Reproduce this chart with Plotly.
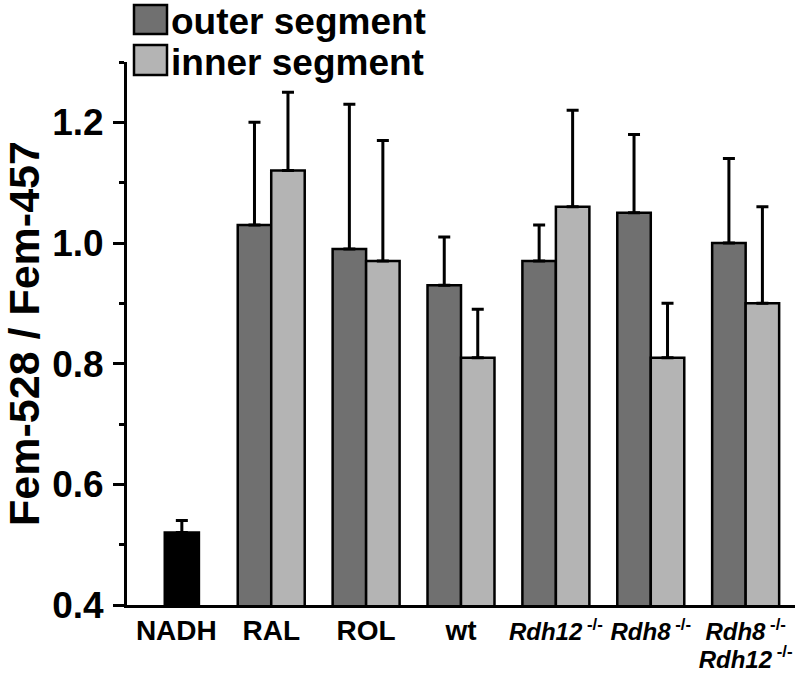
import plotly.graph_objects as go

# ---- data ----
groups = ["NADH", "RAL", "ROL", "wt", "Rdh12", "Rdh8", "Rdh8/Rdh12"]
B_ = '<span style="font-size:28px">'
S = '<span style="font-size:24px">'
tick_labels = [B_ + "NADH</span>", B_ + "RAL</span>", B_ + "ROL</span>", B_ + "wt</span>",
               S + "<i>Rdh12</i><sup> -/-</sup></span>",
               S + "<i>Rdh8</i><sup> -/-</sup></span>",
               S + "<i>Rdh8</i><sup> -/-</sup></span><br>" + S + "<i>Rdh12</i><sup> -/-</sup></span>"]
seg_groups = ["RAL", "ROL", "wt", "Rdh12", "Rdh8", "Rdh8/Rdh12"]
outer_vals = [1.03, 0.99, 0.93, 0.97, 1.05, 1.00]
outer_err = [0.17, 0.24, 0.08, 0.06, 0.13, 0.14]
inner_vals = [1.12, 0.97, 0.81, 1.06, 0.81, 0.90]
inner_err = [0.13, 0.20, 0.08, 0.16, 0.09, 0.16]
nadh_val = [0.52]
nadh_err = [0.02]
y_ticks = [0.4, 0.6, 0.8, 1.0, 1.2]
y_tick_text = ["0.4", "0.6", "0.8", "1.0", "1.2"]

pos = {g: i for i, g in enumerate(groups)}
seg_x = [pos[g] for g in seg_groups]

DARK = "#707070"
LIGHT = "#b4b4b4"
BW = 0.353
FONT = "Liberation Sans"

fig = go.Figure()

def err(arr):
    return dict(type="data", array=arr, arrayminus=[0] * len(arr), symmetric=False,
                color="black", thickness=3, width=6)

fig.add_trace(go.Bar(x=[pos["NADH"]], y=nadh_val, base=0, width=0.36, offset=-0.122,
                     marker=dict(color="black", line=dict(color="black", width=2.5)),
                     error_y=err(nadh_err), showlegend=False, name="NADH"))
fig.add_trace(go.Bar(x=seg_x, y=outer_vals, width=BW, offset=-BW,
                     marker=dict(color=DARK, line=dict(color="black", width=2.5)),
                     error_y=err(outer_err), showlegend=False, name="outer segment"))
fig.add_trace(go.Bar(x=seg_x, y=inner_vals, width=BW, offset=0,
                     marker=dict(color=LIGHT, line=dict(color="black", width=2.5)),
                     error_y=err(inner_err), showlegend=False, name="inner segment"))

# legend drawn as boxes + text
L = 127.0; R = 795.0; T = 62.0; B = 605.0
W = R - L; H = B - T
def px(x): return (x - L) / W
def py(y): return (B - y) / H

for (y0, y1, col, label) in [(5, 34, DARK, "outer segment"), (45, 75, LIGHT, "inner segment")]:
    fig.add_shape(type="rect", xref="paper", yref="paper",
                  x0=px(134), x1=px(167), y0=py(y1), y1=py(y0),
                  fillcolor=col, line=dict(color="black", width=2.5), layer="above")
    fig.add_annotation(xref="paper", yref="paper", x=px(169), y=py((y0 + y1) / 2 + 2),
                       text=label, showarrow=False, xanchor="left", yanchor="middle",
                       font=dict(family=FONT, size=37, color="black", weight="bold"))

fig.update_layout(
    width=800, height=674,
    margin=dict(l=int(L), r=int(800 - R), t=int(T), b=int(674 - B), autoexpand=False),
    paper_bgcolor="white", plot_bgcolor="white",
    barmode="overlay",
    font=dict(family=FONT, color="black"),
    xaxis=dict(range=[-0.52, 6.52], tickvals=list(range(len(groups))), ticktext=tick_labels,
               tickangle=0,
               showline=True, linecolor="black", linewidth=3, ticks="", showgrid=False,
               zeroline=False, tickfont=dict(family=FONT, size=21, color="black", weight="bold"),
               ticklabelstandoff=7),
    yaxis=dict(range=[0.4, 1.3], tickvals=y_ticks, ticktext=y_tick_text,
               showline=True, linecolor="black", linewidth=3, ticks="outside",
               ticklen=11, tickwidth=3, tickcolor="black", showgrid=False, zeroline=False,
               tickfont=dict(family=FONT, size=37, color="black", weight="bold"),
               ticklabelstandoff=2,
               minor=dict(dtick=0.1, tick0=0.4, ticks="outside", ticklen=5, tickwidth=3,
                          tickcolor="black", showgrid=False),
               title=dict(text="Fem-528 / Fem-457",
                          font=dict(family=FONT, size=43, color="black", weight="bold"),
                          standoff=8)),
)

fig.write_html("out.html", config={"displayModeBar": False},
               post_script="document.body.style.margin='0';document.body.style.padding='0';")
